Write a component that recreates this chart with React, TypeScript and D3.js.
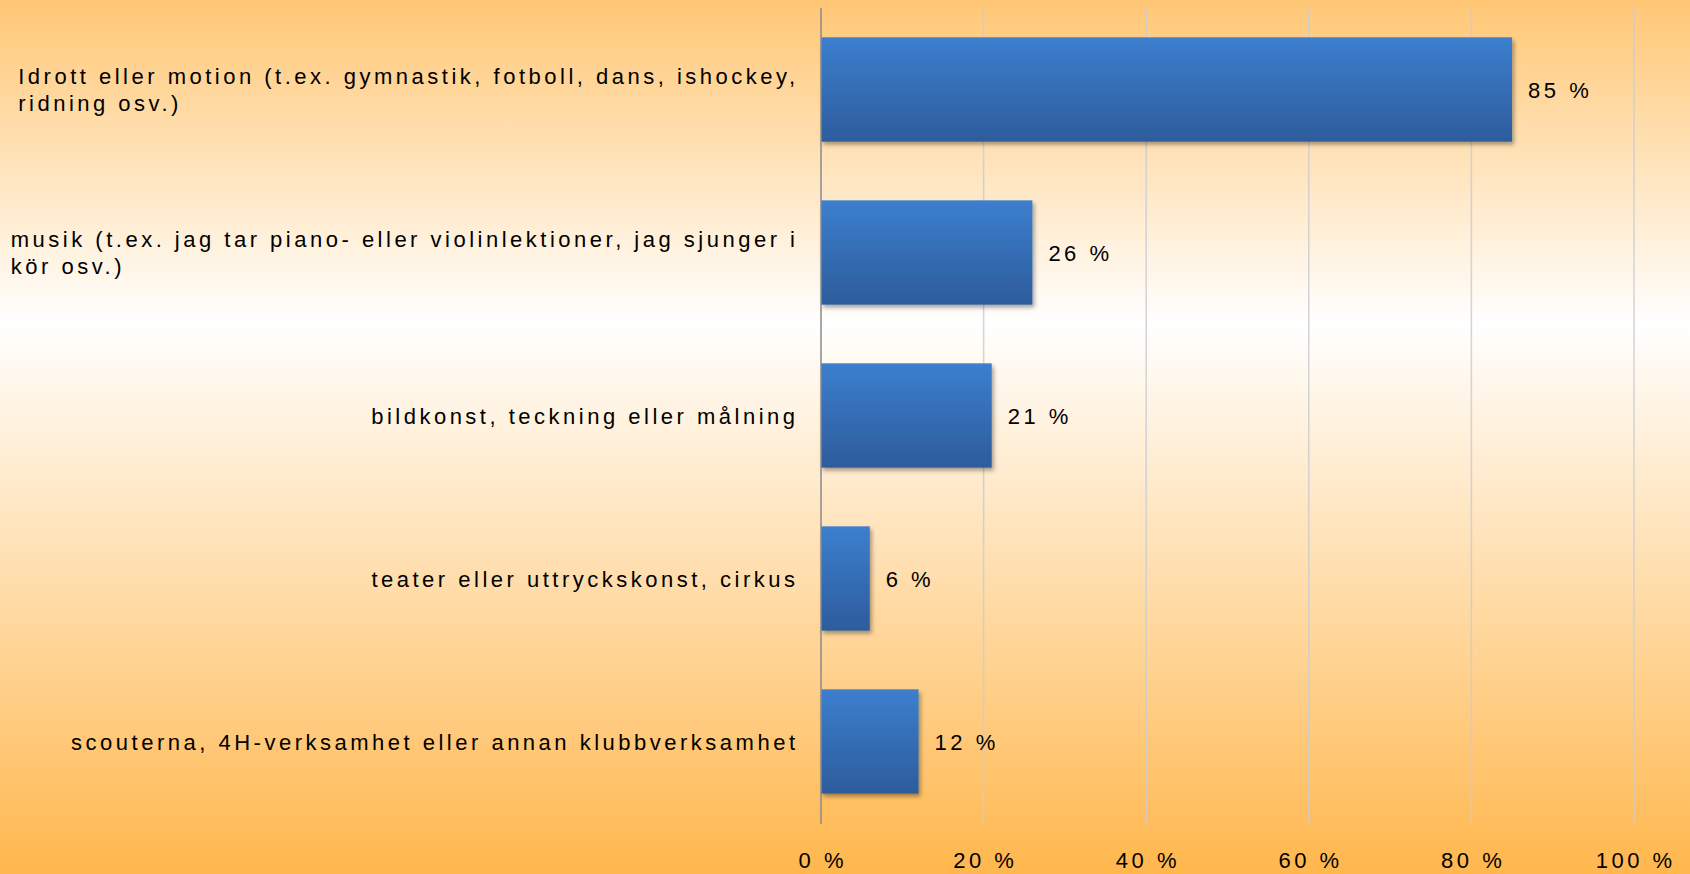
import React, { useEffect, useRef } from 'react';
import * as d3 from 'd3';

const categories = ['idrott', 'musik', 'bildkonst', 'teater', 'scouterna'];

const categoryLines = [
  ['Idrott eller motion (t.ex. gymnastik, fotboll, dans, ishockey,', 'ridning osv.)'],
  ['musik (t.ex. jag tar piano- eller violinlektioner, jag sjunger i', 'kör osv.)'],
  ['bildkonst, teckning eller målning'],
  ['teater eller uttryckskonst, cirkus'],
  ['scouterna, 4H-verksamhet eller annan klubbverksamhet'],
];

const values = [85, 26, 21, 6, 12];

const ticks = [0, 20, 40, 60, 80, 100];

const W = 1690;
const H = 874;

const App = () => {
  const ref = useRef<SVGSVGElement>(null);

  useEffect(() => {
    const svg = d3.select(ref.current);
    svg.selectAll('*').remove();

    const font = '"Liberation Sans", Arial, sans-serif';
    const ls = 3.5;

    const defs = svg.append('defs');
    const bg = defs.append('linearGradient').attr('id', 'bg').attr('x1', 0).attr('y1', 0).attr('x2', 0).attr('y2', 1);
    bg.append('stop').attr('offset', '0%').attr('stop-color', '#FFC775');
    bg.append('stop').attr('offset', '37%').attr('stop-color', '#FFFFFF');
    bg.append('stop').attr('offset', '100%').attr('stop-color', '#FFB74D');

    const bar = defs.append('linearGradient').attr('id', 'bar').attr('x1', 0).attr('y1', 0).attr('x2', 0).attr('y2', 1);
    bar.append('stop').attr('offset', '0%').attr('stop-color', '#3C7FCE');
    bar.append('stop').attr('offset', '100%').attr('stop-color', '#2D5C9C');

    const sh = defs.append('filter').attr('id', 'shadow').attr('x', '-10%').attr('y', '-10%').attr('width', '130%').attr('height', '130%');
    sh.append('feDropShadow').attr('dx', 2).attr('dy', 3).attr('stdDeviation', 2)
      .attr('flood-color', '#000').attr('flood-opacity', 0.35);

    svg.append('rect').attr('width', W).attr('height', H).attr('fill', 'url(#bg)');

    const x = d3.scaleLinear().domain([0, 100]).range([821, 1634]);
    const y = d3.scaleBand().domain(categories).range([8, 823]).paddingInner(0.36).paddingOuter(0.18);

    // gridlines
    svg.append('g').selectAll('line').data(ticks.slice(1)).enter().append('line')
      .attr('x1', (d) => x(d)).attr('x2', (d) => x(d))
      .attr('y1', 8).attr('y2', 824)
      .attr('stroke', '#C9CDD2').attr('stroke-opacity', 0.85).attr('stroke-width', 1.5);

    // bars
    svg.append('g').selectAll('rect').data(values).enter().append('rect')
      .attr('x', x(0))
      .attr('y', (d, i) => y(categories[i]) as number)
      .attr('width', (d) => x(d) - x(0))
      .attr('height', y.bandwidth())
      .attr('fill', 'url(#bar)')
      .attr('filter', 'url(#shadow)');

    // axis line
    svg.append('line')
      .attr('x1', x(0)).attr('x2', x(0)).attr('y1', 8).attr('y2', 824)
      .attr('stroke', '#8A8A8A').attr('stroke-width', 1.5);

    // value labels
    svg.append('g').selectAll('text').data(values).enter().append('text')
      .attr('x', (d) => x(d) + 16)
      .attr('y', (d, i) => (y(categories[i]) as number) + y.bandwidth() / 2 + 8.5)
      .attr('font-family', font).attr('font-size', 22).attr('letter-spacing', ls)
      .attr('fill', '#000')
      .text((d) => `${d} %`);

    // tick labels
    svg.append('g').selectAll('text').data(ticks).enter().append('text')
      .attr('x', (d) => x(d) + ls / 2)
      .attr('y', 868)
      .attr('text-anchor', 'middle')
      .attr('font-family', font).attr('font-size', 22).attr('letter-spacing', ls)
      .attr('fill', '#000')
      .text((d) => `${d} %`);

    // category labels: block right-aligned, lines left-aligned
    const right = 795;
    const lh = 27;
    categoryLines.forEach((lines, i) => {
      const cy = (y(categories[i]) as number) + y.bandwidth() / 2;
      const t = svg.append('text')
        .attr('font-family', font).attr('font-size', 22).attr('letter-spacing', ls)
        .attr('fill', '#000');
      const spans = lines.map((line, j) =>
        t.append('tspan')
          .attr('y', cy + 8 + (j - (lines.length - 1) / 2) * lh)
          .text(line)
      );
      const maxW = d3.max(spans, (s) => (s.node() as SVGTSpanElement).getComputedTextLength()) || 0;
      const left = right - maxW + ls;
      spans.forEach((s) => s.attr('x', left));
    });
  }, []);

  return (
    <svg
      ref={ref}
      width={W}
      height={H}
      style={{ position: 'absolute', top: 0, left: 0, display: 'block' }}
    />
  );
};

export default App;
